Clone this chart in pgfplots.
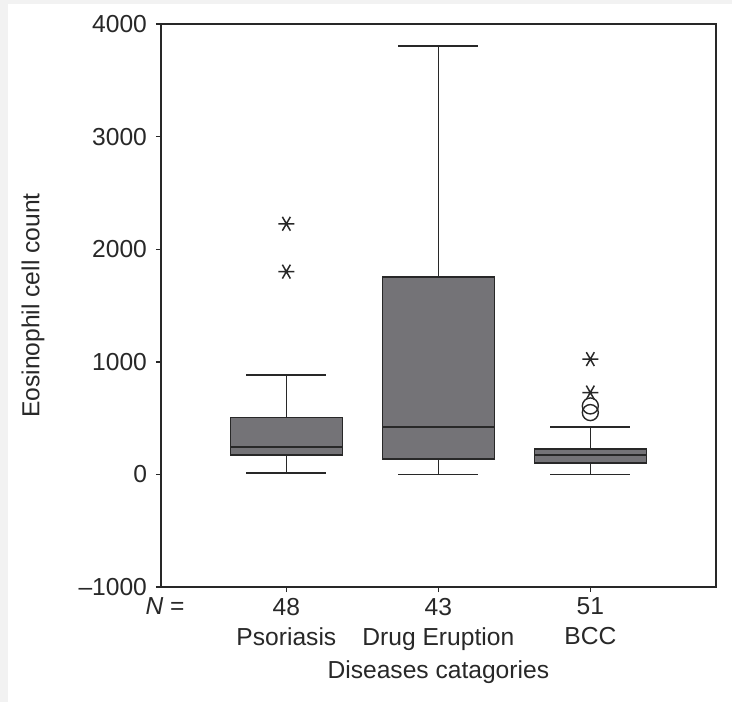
\documentclass[border=0pt]{standalone}
\usepackage{fontspec}
\setmainfont{Liberation Sans}
\usepackage{pgfplots}
\pgfplotsset{compat=1.18}

\definecolor{boxfill}{RGB}{116,115,119}
\definecolor{lc}{RGB}{40,40,40}
\definecolor{pagegray}{RGB}{242,242,242}

\newcommand{\lblfont}{\fontsize{12.3}{15}\selectfont}

\begin{document}
\begin{tikzpicture}
% page background (light grey strip on the left and top)
\fill[pagegray] (-80.5pt,-57.5pt) rectangle (285.5pt,293.5pt);
\fill[white] (-76.5pt,-57.5pt) rectangle (285.5pt,291.5pt);

\begin{axis}[
    scale only axis,
    width=277.35pt,
    height=281.5pt,
    xmin=0.175, xmax=3.825,
    ymin=-1000, ymax=4000,
    axis line style={line width=0.85pt, lc},
    tick style={line width=0.7pt, lc},
    major tick length=2.5pt,
    tick align=outside,
    xtick pos=bottom,
    ytick pos=left,
    xtick={1,2,3},
    xticklabels={{48\\Psoriasis},{43\\Drug Eruption},{51\\BCC}},
    ytick={-1000,0,1000,2000,3000,4000},
    yticklabels={\textendash1000,0,1000,2000,3000,4000},
    tick label style={font=\lblfont, text=lc},
    xticklabel style={align=center, yshift=0.5pt},
    yticklabel style={xshift=-1pt},
    xlabel={Diseases catagories},
    ylabel={Eosinophil cell count},
    label style={font=\lblfont, text=lc},
    xlabel style={at={(axis description cs:0.5,-0.151)}, anchor=center},
    ylabel style={at={(axis description cs:-0.2308,0.5)}, anchor=center},
    unbounded coords=jump,
    every axis plot/.append style={line width=0.7pt, draw=lc},
]
% whiskers (Psoriasis, Drug Eruption, BCC)
\addplot[mark=none] coordinates {
    (1,507) (1,884) (nan,nan) (1,14) (1,175) (nan,nan)
    (2,1751) (2,3805) (nan,nan) (2,0) (2,139) (nan,nan)
    (3,225) (3,421) (nan,nan) (3,0) (3,101)
};
% whisker caps
\addplot[mark=none] coordinates {
    (0.737,884) (1.263,884) (nan,nan) (0.737,14) (1.263,14) (nan,nan)
    (1.737,3805) (2.263,3805) (nan,nan) (1.737,0) (2.263,0) (nan,nan)
    (2.737,421) (3.263,421) (nan,nan) (2.737,0) (3.263,0)
};
% boxes (lower quartile to upper quartile)
\addplot[mark=none, fill=boxfill, line width=0.8pt] coordinates {
    (0.6315,175) (1.3685,175) (1.3685,507) (0.6315,507) (0.6315,175)
} -- cycle;
\addplot[mark=none, fill=boxfill, line width=0.8pt] coordinates {
    (1.6315,139) (2.3685,139) (2.3685,1751) (1.6315,1751) (1.6315,139)
} -- cycle;
\addplot[mark=none, fill=boxfill, line width=0.8pt] coordinates {
    (2.6315,101) (3.3685,101) (3.3685,225) (2.6315,225) (2.6315,101)
} -- cycle;
% medians
\addplot[mark=none, line width=0.8pt] coordinates {
    (0.6315,246) (1.3685,246) (nan,nan)
    (1.6315,421) (2.3685,421) (nan,nan)
    (2.6315,175) (3.3685,175)
};
% extreme outliers (asterisks)
\addplot[only marks, mark=asterisk, mark size=4pt,
    mark options={rotate=90, draw=lc, line width=0.75pt}]
    coordinates {(1,2226) (1,1801) (3,1024) (3,727)};
% outliers (circles)
\addplot[only marks, mark=o, mark size=4pt, mark options={draw=lc, line width=0.7pt}]
    coordinates {(3,608) (3,549)};
\end{axis}

\node[anchor=north, font=\lblfont, text=lc, inner sep=0.333em] at (2pt,-2pt) {\textit{N} =};

\pgfresetboundingbox
\path (-80.5pt,-57.5pt) rectangle (285.5pt,293.5pt);
\end{tikzpicture}
\end{document}
